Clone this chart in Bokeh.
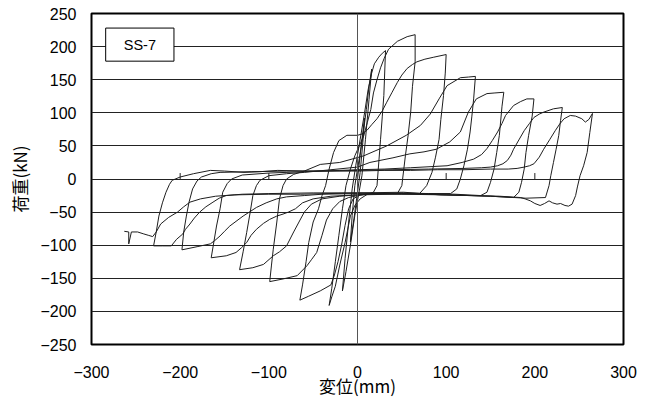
from bokeh.plotting import figure
from bokeh.models import Range1d, FixedTicker, Span, BoxAnnotation, Label, ColumnDataSource
from bokeh.embed import file_html
from bokeh.resources import INLINE

# ---------------- data (displacement mm, load kN) ----------------
cyc1 = [(0, 0), (4, 48), (8, 92), (6, 55), (3, 10), (0, -20), (-4, -60), (-8, -95),
        (-6, -55), (-3, -10), (0, 15)]
cyc2 = [(0, 15), (5, 55), (10, 105), (13, 140), (16, 166), (13, 120), (9, 60), (5, 5),
        (2, -18), (-3, -55), (-8, -100), (-13, -140), (-17, -169), (-14, -120),
        (-10, -65), (-6, -15), (-2, 20)]
cyc3 = [(-2, 20), (3, 60), (8, 100), (12, 135), (16, 160), (19, 174), (24, 184),
        (28, 190), (31.6, 194), (29.7, 126), (28, 95), (26, 60), (22, -10), (18, -20),
        (10, -24), (3, -30), (-3, -40), (-8, -56), (-14, -96), (-20, -130), (-25, -162),
        (-29, -178), (-32, -191)]
cyc4 = [(-32, -191), (-29, -165), (-25, -125), (-21, -85), (-17, -45), (-13, -10),
        (-8, 15), (-3, 35), (2, 50), (7, 65), (11, 85), (15, 105), (18, 130), (22, 150),
        (26, 168), (30, 182), (35, 196), (45, 208), (56, 215), (65, 218), (65, 177),
        (62, 140), (60, 101), (57, 65), (54, 35), (50, -10), (45, -22), (30, -22),
        (15, -22), (3, -24), (-5, -30), (-10, -45), (-14, -70), (-18, -100), (-22, -125),
        (-26, -145), (-30, -160), (-42, -169), (-55, -177), (-65, -183)]
cyc5 = [(-65, -183), (-62, -160), (-58, -125), (-55, -96), (-50, -65), (-44, -45),
        (-40, -25), (-36, -10), (-32, 15), (-27, 40), (-21, 58), (-12, 66), (0, 66),
        (5, 68), (11, 74), (16, 82), (22, 91), (28, 103), (33, 116), (39, 131), (45, 146),
        (50, 157), (56, 167), (62, 173), (67, 177), (76, 181), (86, 184), (100, 188),
        (99, 160), (97, 126), (94, 90), (92, 60), (88, 33), (84, 10), (78, -10), (70, -22),
        (50, -22), (30, -22), (10, -23), (0, -25), (-10, -28), (-20, -34), (-28, -45),
        (-35, -62), (-40, -85), (-46, -111), (-52, -122), (-57, -131), (-68, -146),
        (-84, -151), (-99, -155)]
cyc6 = [(-99, -155), (-97, -130), (-95, -106), (-91, -65), (-88, -30), (-84, -10),
        (-80, 0), (-72, 7), (-60, 12), (-42, 22), (-20, 25), (7, 35), (33, 50), (55, 66),
        (71, 81), (82, 98), (92, 121), (101, 141), (116, 153), (125, 154), (133, 155),
        (131, 121), (129, 95), (127, 71), (124, 45), (120, 20), (116, 0), (112, -15),
        (105, -22), (80, -22), (50, -21), (20, -22), (0, -24), (-20, -26), (-40, -30),
        (-52, -38), (-60, -50), (-66, -65), (-72, -80), (-80, -101), (-88, -110),
        (-95, -116), (-106, -129), (-118, -134), (-133, -137)]
cyc7 = [(-133, -137), (-129, -110), (-125, -81), (-121, -50), (-118, -25), (-114, -10),
        (-110, -2), (-100, 5), (-80, 8), (-60, 10), (-30, 14), (0, 18), (14, 25), (40, 32),
        (59, 38), (75, 41), (89, 45), (104, 56), (116, 71), (125, 101), (134, 121),
        (146, 129), (155, 130), (165, 131), (163, 110), (160, 66), (157, 40), (154, 15),
        (150, -5), (146, -20), (139, -25), (110, -23), (80, -22), (40, -23), (0, -24),
        (-30, -26), (-50, -30), (-62, -36), (-70, -45), (-78, -50), (-84, -53), (-91, -56),
        (-99, -61), (-106, -67), (-114, -76), (-120, -85), (-125, -96), (-131, -104),
        (-137, -111), (-148, -116), (-165, -119)]
cyc8 = [(-165, -119), (-162, -95), (-159, -71), (-155, -45), (-152, -20), (-147, -7),
        (-142, 0), (-130, 6), (-100, 9), (-60, 11), (-20, 13), (0, 14), (30, 15), (60, 17),
        (101, 20), (118, 25), (131, 30), (140, 37), (146, 46), (152, 58), (158, 71),
        (163, 84), (167, 96), (176, 111), (184, 117), (191, 121), (199, 121), (197, 95),
        (193, 66), (190, 40), (188, 15), (185, -5), (182, -20), (176, -28), (150, -26),
        (100, -24), (50, -23), (0, -22), (-40, -23), (-60, -25), (-80, -27), (-91, -30),
        (-103, -36), (-114, -43), (-122, -50), (-129, -56), (-137, -64), (-144, -71),
        (-150, -79), (-155, -86), (-161, -93), (-166, -98), (-180, -102), (-198, -107)]
cyc9 = [(-198, -107), (-196, -80), (-193, -56), (-190, -35), (-186, -15), (-181, -3),
        (-176, 3), (-165, 8), (-155, 10), (-120, 11), (-80, 12), (-40, 12), (0, 13),
        (40, 14), (80, 15), (120, 16), (140, 17), (150, 18), (158, 20), (164, 23),
        (169, 28), (173, 36), (176, 45), (182, 59), (188, 73), (194, 84), (199, 93),
        (205, 98), (210, 101), (221, 106), (231, 108), (229, 88), (227, 66), (224, 45),
        (221, 25), (218, 5), (216, -10), (212, -28), (190, -29), (150, -26), (100, -24),
        (50, -22), (0, -21), (-50, -21), (-100, -22), (-130, -23), (-148, -25),
        (-156, -29), (-163, -35), (-171, -42), (-178, -50), (-184, -59), (-189, -68),
        (-194, -76), (-197, -83), (-204, -91), (-210, -101), (-220, -101), (-230, -101)]
cyc10 = [(-230, -101), (-227, -80), (-224, -56), (-220, -36), (-216, -20), (-212, -8),
         (-209, -2), (-200, 3), (-185, 8), (-166, 13), (-150, 12), (-128, 10), (-110, 11),
         (-90, 13), (-60, 12), (-30, 12), (0, 12), (30, 13), (60, 13), (90, 14), (120, 14),
         (150, 15), (170, 15), (180, 16), (188, 18), (194, 20), (199, 23), (205, 33),
         (210, 45), (217, 60), (223, 73), (228, 83), (233, 91), (240, 96), (246, 95),
         (253, 91), (257, 86), (261, 90), (265, 99), (262, 70), (259, 40), (255, 20),
         (251, 5), (248, -12), (246, -25), (242, -38), (238, -41), (234, -40), (229, -37),
         (225, -38), (220, -36), (216, -33), (211, -37), (206, -40), (200, -37),
         (195, -33), (189, -30), (184, -28), (160, -26), (131, -25), (94, -24), (52, -20),
         (0, -21), (-64, -23), (-100, -23), (-139, -24), (-160, -26), (-177, -30),
         (-189, -35), (-196, -42), (-203, -50), (-213, -58), (-222, -68), (-227, -80),
         (-231, -87), (-236, -85), (-241, -83), (-248, -80), (-255, -80), (-258, -98),
         (-258, -80), (-263, -79)]
cycles = [cyc1, cyc2, cyc3, cyc4, cyc5, cyc6, cyc7, cyc8, cyc9, cyc10]

x_ticks = [-300, -200, -100, 0, 100, 200, 300]
x_tick_labels = ["\u2212300", "\u2212200", "\u2212100", "0", "100", "200", "300"]
y_ticks = [-250, -200, -150, -100, -50, 0, 50, 100, 150, 200, 250]
y_tick_labels = ["\u2212250", "\u2212200", "\u2212150", "\u2212100", "\u221250", "0",
                 "50", "100", "150", "200", "250"]
axis_marks = [-200, -100, 100, 200]
specimen = "SS-7"
x_title = "変位(mm)"
y_title = "荷重(kN)"

# ---------------- build ----------------
xs, ys = [], []
for c in cycles:
    for (a, b) in c:
        xs.append(a)
        ys.append(b)
src = ColumnDataSource(data=dict(x=xs, y=ys))

p = figure(width=645, height=400, x_range=Range1d(-300, 300), y_range=Range1d(-250, 250),
           output_backend="svg", toolbar_location=None,
           min_border_left=91, min_border_right=22, min_border_top=13, min_border_bottom=56)
p.background_fill_color = "white"
p.border_fill_color = "white"
p.outline_line_color = "black"
p.outline_line_width = 2

tick_font = "Liberation Sans"
cjk_font = "Noto Sans CJK JP"

for ax, ticks, labels, stand in ((p.xaxis[0], x_ticks, x_tick_labels, 21),
                                 (p.yaxis[0], y_ticks, y_tick_labels, 15)):
    ax.ticker = FixedTicker(ticks=ticks)
    ax.major_label_overrides = {t: l for t, l in zip(ticks, labels)}
    ax.major_tick_line_color = None
    ax.minor_tick_line_color = None
    ax.major_tick_out = 0
    ax.major_tick_in = 0
    ax.minor_tick_out = 0
    ax.axis_line_color = None
    ax.major_label_standoff = stand
    ax.major_label_text_font = tick_font
    ax.major_label_text_font_size = "16px"
    ax.major_label_text_color = "black"

for ax, title, stand in ((p.xaxis[0], x_title, -8), (p.yaxis[0], y_title, 5)):
    ax.axis_label = title
    ax.axis_label_text_font = cjk_font
    ax.axis_label_text_font_size = "17px"
    ax.axis_label_text_font_style = "normal"
    ax.axis_label_text_color = "black"
    ax.axis_label_standoff = stand

p.xgrid.visible = False
p.ygrid.ticker = FixedTicker(ticks=y_ticks)
p.ygrid.grid_line_color = "#222222"
p.ygrid.grid_line_width = 1

p.add_layout(Span(location=0, dimension="height", line_color="#555555", line_width=1))

p.segment(x0=axis_marks, y0=[0] * len(axis_marks), x1=axis_marks, y1=[9] * len(axis_marks),
          line_color="#222222", line_width=1)

p.line("x", "y", source=src, line_color="#1e1e1e", line_width=1)

p.add_layout(BoxAnnotation(left=-284, right=-207, bottom=178, top=228,
                           fill_color="white", fill_alpha=1.0,
                           line_color="black", line_width=1, line_alpha=1.0))
p.add_layout(Label(x=-245.5, y=203, text=specimen, text_align="center",
                   text_baseline="middle", text_font=tick_font,
                   text_font_size="14.5px", text_color="black"))

open("out.html", "w").write(file_html(p, INLINE))
